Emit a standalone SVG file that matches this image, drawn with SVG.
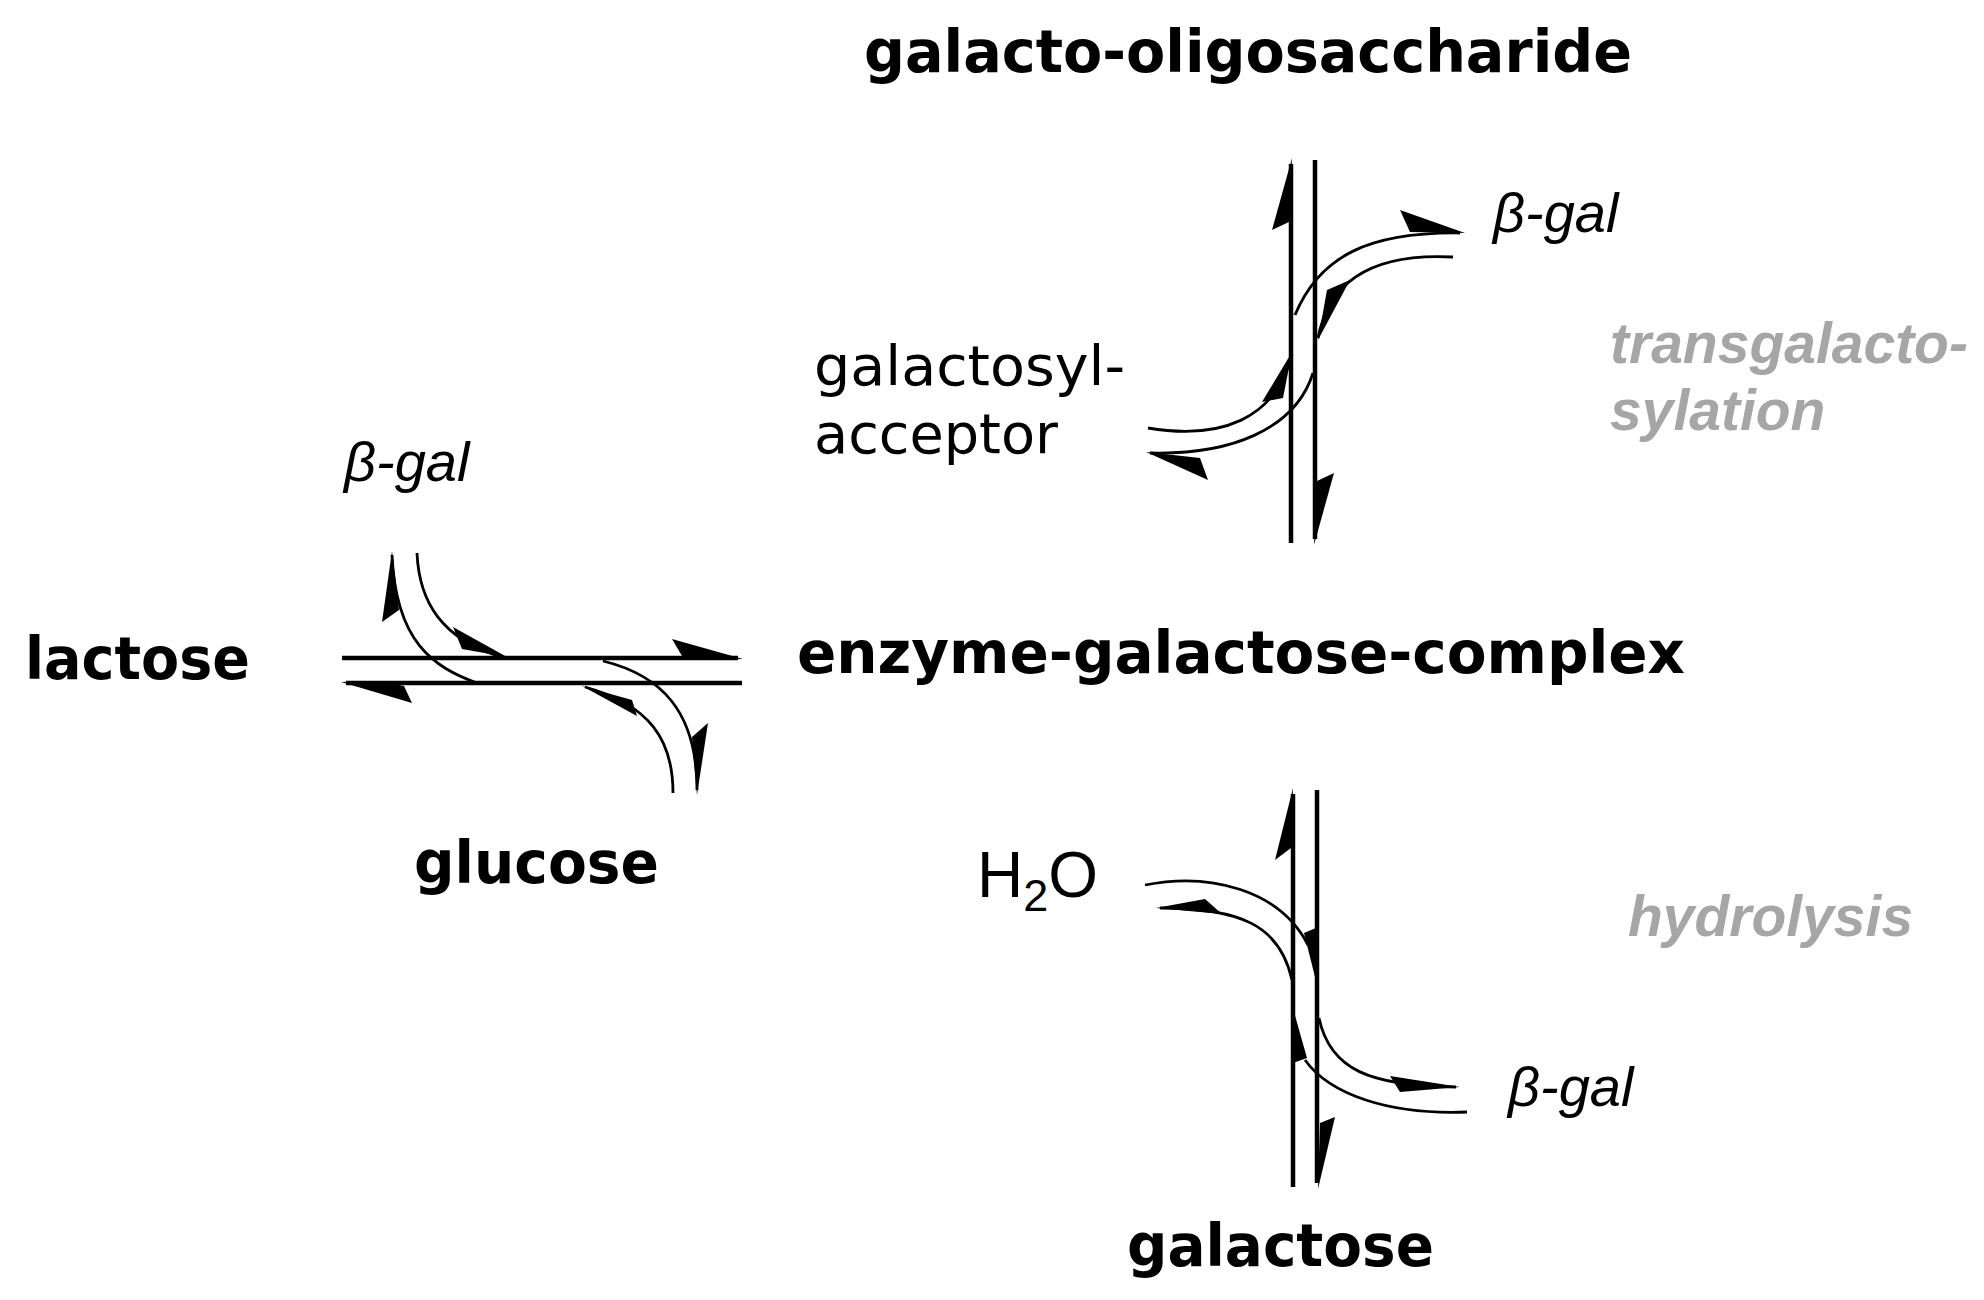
<svg xmlns="http://www.w3.org/2000/svg" width="1984" height="1300" viewBox="0 0 1984 1300">
<style>
.b{font-family:"DejaVu Sans",Verdana,sans-serif;font-weight:bold;font-size:58px;fill:#000}
.r{font-family:"DejaVu Sans",Verdana,sans-serif;font-size:56px;fill:#000}
.h{font-family:"Liberation Sans",Arial,sans-serif;font-size:64px;fill:#000}
.i{font-family:"Liberation Sans",Arial,sans-serif;font-style:italic;font-size:56px;fill:#000}
.g{font-family:"Liberation Sans",Arial,sans-serif;font-style:italic;font-weight:bold;font-size:57px;fill:#a6a6a6}
.ln{stroke:#000;stroke-width:4.5;fill:none}
.cv{stroke:#000;stroke-width:2.8;fill:none}
.hd{fill:#000;stroke:none}
</style>
<rect width="1984" height="1300" fill="#fff"/>
<g id="node-gos"><text class="b" x="864" y="72" textLength="768" lengthAdjust="spacingAndGlyphs">galacto-oligosaccharide</text></g>
<g id="node-lactose"><text class="b" x="25" y="679" textLength="225" lengthAdjust="spacingAndGlyphs">lactose</text></g>
<g id="node-complex"><text class="b" x="797" y="673" textLength="888" lengthAdjust="spacingAndGlyphs">enzyme-galactose-complex</text></g>
<g id="node-glucose"><text class="b" x="414" y="883" textLength="245" lengthAdjust="spacingAndGlyphs">glucose</text></g>
<g id="node-galactose"><text class="b" x="1127" y="1266" textLength="307" lengthAdjust="spacingAndGlyphs">galactose</text></g>
<g id="node-acceptor"><text class="r" x="814" y="385" textLength="311" lengthAdjust="spacingAndGlyphs">galactosyl-</text><text class="r" x="814" y="453" textLength="244" lengthAdjust="spacingAndGlyphs">acceptor</text></g>
<g id="node-water"><text class="h" x="977" y="897">H<tspan font-size="45" dy="14">2</tspan><tspan dy="-14">O</tspan></text></g>
<g id="node-bgal-left"><text class="i" x="344" y="481">β-gal</text></g>
<g id="node-bgal-top"><text class="i" x="1493" y="232">β-gal</text></g>
<g id="node-bgal-bottom"><text class="i" x="1508" y="1106">β-gal</text></g>
<g id="label-transgal"><text class="g" x="1610" y="363">transgalacto-</text><text class="g" x="1610" y="430">sylation</text></g>
<g id="label-hydrolysis"><text class="g" x="1628" y="936">hydrolysis</text></g>
<g id="connectors">
<!-- left equilibrium -->
<line class="ln" x1="342" y1="658" x2="738" y2="658"/>
<polygon class="hd" points="743,659 672,639 682,656 700,660"/>
<line class="ln" x1="346" y1="683" x2="742" y2="683"/>
<polygon class="hd" points="341,682 412,703 404,686 380,681"/>
<path class="cv" d="M417,553 C419,600 440,640 505,658"/>
<polygon class="hd" points="453,627 507,657 462,649"/>
<path class="cv" d="M477,683 C433,667 396,642 392,555"/>
<polygon class="hd" points="392,551 382,622 399,610"/>
<path class="cv" d="M603,661 C660,675 697,710 697,790"/>
<polygon class="hd" points="697,795 708,723 692,737"/>
<path class="cv" d="M673,793 C673,740 650,705 585,687"/>
<polygon class="hd" points="582,686 632,700 637,716"/>
<!-- upper vertical -->
<line class="ln" x1="1291" y1="164" x2="1291" y2="543"/>
<polygon class="hd" points="1292,158 1272,230 1289,222"/>
<line class="ln" x1="1315" y1="160" x2="1315" y2="539"/>
<polygon class="hd" points="1314,545 1334,473 1317,481"/>
<path class="cv" d="M1148,428 C1220,440 1275,420 1292,355"/>
<polygon class="hd" points="1292,352 1262,402 1283,398"/>
<path class="cv" d="M1295,315 C1320,255 1370,232 1460,233"/>
<polygon class="hd" points="1400,210 1465,233 1410,232"/>
<path class="cv" d="M1453,257 C1380,253 1330,275 1318,338"/>
<polygon class="hd" points="1350,280 1327,290 1318,340"/>
<path class="cv" d="M1313,373 C1295,430 1230,455 1150,453"/>
<polygon class="hd" points="1146,452 1208,480 1200,458"/>
<!-- lower vertical -->
<line class="ln" x1="1293" y1="794" x2="1293" y2="1187"/>
<polygon class="hd" points="1293,788 1275,860 1291,848"/>
<line class="ln" x1="1317" y1="790" x2="1317" y2="1183"/>
<polygon class="hd" points="1318,1189 1335,1117 1320,1123"/>
<path class="cv" d="M1145,885 C1210,872 1280,890 1308,945"/>
<polygon class="hd" points="1304,933 1316,928 1317,985"/>
<path class="cv" d="M1319,1018 C1330,1070 1370,1086 1456,1087"/>
<polygon class="hd" points="1390,1076 1460,1087 1400,1092"/>
<path class="cv" d="M1292,980 C1280,925 1240,908 1160,908"/>
<polygon class="hd" points="1156,908 1205,899 1222,914"/>
<path class="cv" d="M1467,1112 C1390,1115 1330,1095 1305,1060"/>
<polygon class="hd" points="1294,1012 1293,1063 1307,1058"/>
</g>
</svg>
